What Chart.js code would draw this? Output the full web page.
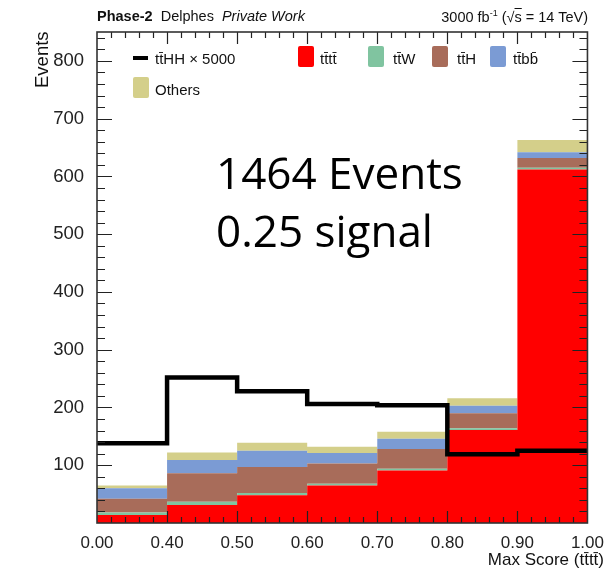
<!DOCTYPE html>
<html>
<head>
<meta charset="utf-8">
<script src="https://cdn.jsdelivr.net/npm/chart.js@4.4.1/dist/chart.umd.min.js"></script>
<style>
  body { margin: 0; background: #fff; }
  #wrap { position: relative; width: 606px; height: 569px; font-family: 'Liberation Sans', Arial, sans-serif; color: #111; }
  #chart { position: absolute; left: 0; top: 0; }
  .txt { position: absolute; white-space: nowrap; }
  .leg { position: absolute; font-size: 15px; line-height: 15px; white-space: nowrap; }
  .box { position: absolute; width: 16px; height: 21px; border-radius: 2px; }
  .big { position: absolute; left: 216px; font-family: 'Open Sans', sans-serif; font-size: 44px; line-height: 44px; color: #000; white-space: nowrap; }
</style>
</head>
<body>
<div id="wrap">
  <canvas id="chart" width="606" height="569"></canvas>

  <div class="txt" style="left:97px; top:8px; font-size:14.5px;"><b>Phase-2</b>&nbsp; Delphes &nbsp;<i>Private Work</i></div>
  <div class="txt" style="right:18px; top:8px; font-size:14.5px;">3000 fb<sup style="font-size:9px">-1</sup> (√<span style="text-decoration:overline">s</span> = 14 TeV)</div>

  <div class="txt" style="left:31px; top:88px; font-size:18.5px; transform:rotate(-90deg); transform-origin:0 0;">Events</div>
  <div class="txt" style="right:2px; top:550px; font-size:17px;">Max Score (tt̄tt̄)</div>

  <div class="big" style="top:150px;">1464 Events</div>
  <div class="big" style="top:208px;">0.25 signal</div>

  <div style="position:absolute; left:133px; top:56px; width:15px; height:4px; background:#000;"></div>
  <div class="leg" style="left:155px; top:51px;">tt̄HH × 5000</div>
  <div class="box" style="left:298px; top:46px; background:#ff0000;"></div>
  <div class="leg" style="left:320px; top:51px;">tt̄tt̄</div>
  <div class="box" style="left:368px; top:46px; background:#80c4a0;"></div>
  <div class="leg" style="left:393px; top:51px;">tt̄W</div>
  <div class="box" style="left:432px; top:46px; background:#a86c5a;"></div>
  <div class="leg" style="left:457px; top:51px;">tt̄H</div>
  <div class="box" style="left:490px; top:46px; background:#7b9bd4;"></div>
  <div class="leg" style="left:513px; top:51px;">tt̄bb̄</div>
  <div class="box" style="left:133px; top:77px; background:#d4cf8a;"></div>
  <div class="leg" style="left:155px; top:82px;">Others</div>
</div>

<script>
'use strict';
let binLabels=['0.00','0.40','0.50','0.60','0.70','0.80','0.90','1.00'];
let tttt=[14, 31, 48, 65, 91, 161, 612];
let ttW=[4, 6, 4, 3, 3, 3, 3];
let ttH=[24, 49, 45, 35, 34, 26, 17];
let ttbb=[18, 23, 28, 18, 18, 13, 10];
let others=[5, 13, 14, 11, 12, 13, 21];
let ttHHx5000=[138, 252, 228, 206, 204, 119, 125];

// histogram bins as step points on bin edges 0..7
function stepPoints(values){
  let pts=[];
  for(let i=0; i<values.length; i++){
    pts.push({x: i, y: values[i]});
  }
  pts.push({x: values.length, y: values[values.length-1]});
  return pts;
}

function histSet(label, values, color, fill){
  return {
    label: label,
    data: stepPoints(values),
    backgroundColor: color,
    borderColor: color,
    borderWidth: 0,
    pointRadius: 0,
    stepped: true,
    fill: fill,
    stack: 'bkg'
  };
}

let frameTicks={
  id: 'frameTicks',
  afterDatasetsDraw(chart){
    let ctx=chart.ctx;
    let a=chart.chartArea;
    let xs=chart.scales.x;
    let ys=chart.scales.y;
    ctx.save();
    ctx.strokeStyle='#222';
    ctx.lineWidth=1.2;
    ctx.beginPath();
    for(let v=20; v<=840; v+=20){
      let py=Math.round(ys.getPixelForValue(v))+0.5;
      let len=(v%100===0) ? 15 : 8;
      ctx.moveTo(a.left, py); ctx.lineTo(a.left+len, py);
      ctx.moveTo(a.right, py); ctx.lineTo(a.right-len, py);
    }
    for(let k=1; k<35; k++){
      let px=Math.round(xs.getPixelForValue(k/5))+0.5;
      let len=(k%5===0) ? 12 : 6;
      ctx.moveTo(px, a.bottom); ctx.lineTo(px, a.bottom-len);
      ctx.moveTo(px, a.top); ctx.lineTo(px, a.top+len);
    }
    ctx.stroke();
    ctx.lineWidth=1.6;
    ctx.strokeStyle='#333';
    ctx.strokeRect(a.left, a.top, a.right-a.left, a.bottom-a.top);
    ctx.restore();
  }
};

let ctx=document.getElementById('chart').getContext('2d');
let myChart=new Chart(ctx, {
  type: 'line',
  data: {
    datasets: [
      {
        label: 'ttHH x 5000',
        data: stepPoints(ttHHx5000),
        borderColor: '#000',
        borderWidth: 4.5,
        borderJoinStyle: 'miter',
        pointRadius: 0,
        fill: false,
        stepped: true,
        stack: 'sig'
      },
      histSet('tttt', tttt, '#ff0000', 'origin'),
      histSet('ttW', ttW, '#80c4a0', '-1'),
      histSet('ttH', ttH, '#a86c5a', '-1'),
      histSet('ttbb', ttbb, '#7b9bd4', '-1'),
      histSet('Others', others, '#d4cf8a', '-1')
    ]
  },
  options: {
    responsive: false,
    devicePixelRatio: 1,
    animation: false,
    layout: { padding: { top: 32, right: 18, left: 0, bottom: 0 } },
    plugins: {
      legend: { display: false },
      tooltip: { enabled: false },
      filler: { propagate: false }
    },
    scales: {
      x: {
        type: 'linear',
        min: 0,
        max: 7,
        grid: { display: false },
        border: { display: false },
        afterFit(scale){ scale.height=46; },
        ticks: {
          stepSize: 1,
          padding: 2,
          color: '#222',
          font: { family: 'Liberation Sans', size: 17 },
          maxRotation: 0,
          autoSkip: false,
          callback(value){ return binLabels[value]; }
        }
      },
      y: {
        stacked: true,
        min: 0,
        max: 850,
        grid: { display: false },
        border: { display: false },
        afterFit(scale){ scale.width=97; },
        ticks: {
          stepSize: 100,
          padding: 5,
          color: '#222',
          font: { family: 'Liberation Sans', size: 18.5 },
          callback(value){ return (value>0 && value%100===0) ? value : ''; }
        }
      }
    }
  },
  plugins: [frameTicks]
});
</script>
</body>
</html>
